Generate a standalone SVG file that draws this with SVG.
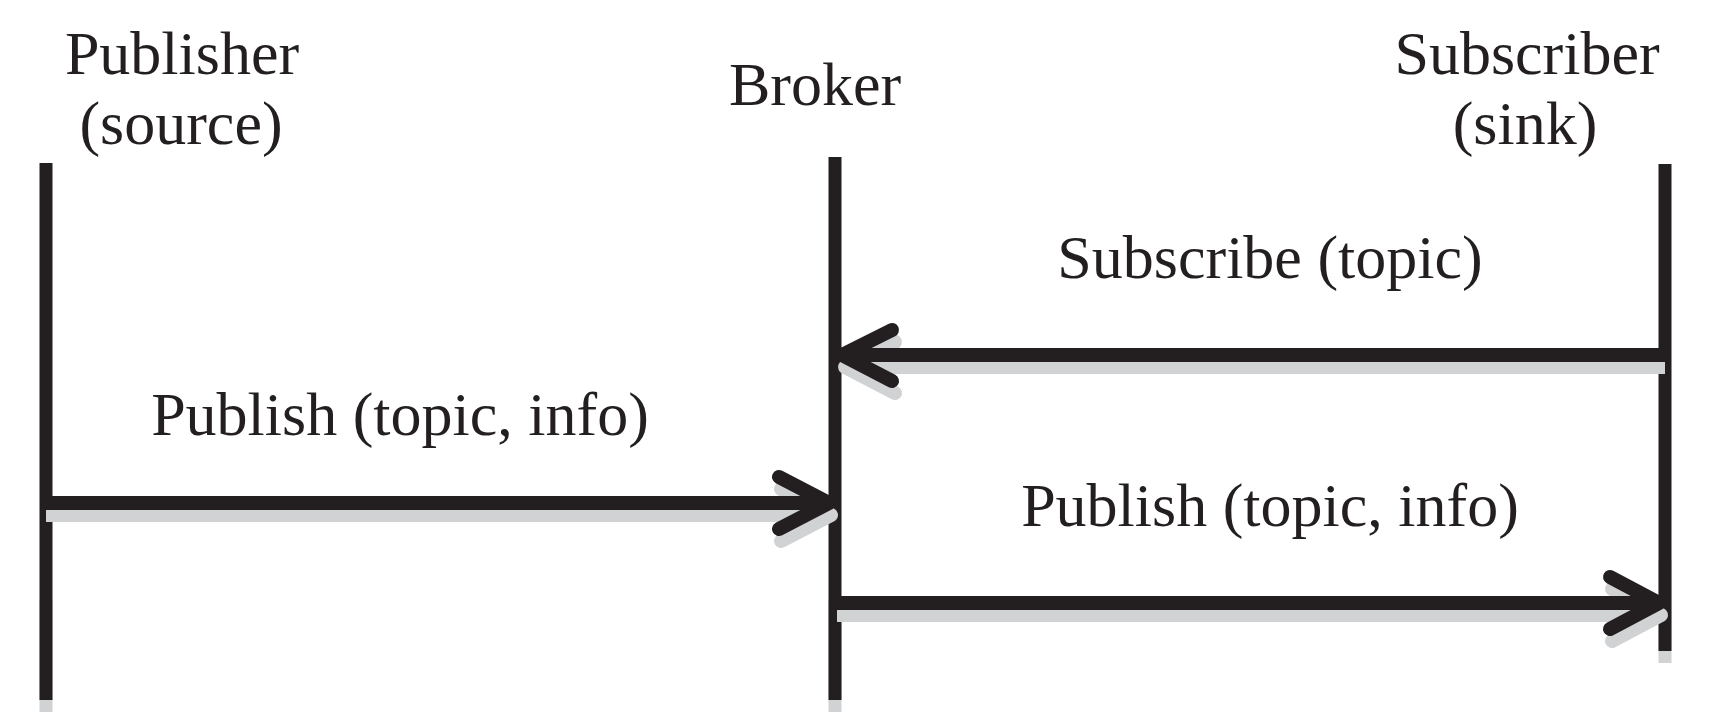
<svg xmlns="http://www.w3.org/2000/svg" width="1709" height="720" viewBox="0 0 1709 720">
<style>
.t{font-family:"Liberation Serif","Times New Roman",serif;font-size:62px;fill:#231f20;text-anchor:middle}
.life{stroke:#231f20;stroke-width:13;fill:none}
.lifesh{stroke:#d1d2d3;stroke-width:13;fill:none}
.msg{stroke:#231f20;stroke-width:14;fill:none}
.head{stroke:#231f20;stroke-width:14;fill:none;stroke-linecap:round;stroke-linejoin:round}
.sh{stroke:#d1d2d3}
</style>
<rect width="1709" height="720" fill="#ffffff"/>
<g id="shadows">
<line class="lifesh" x1="46" y1="600" x2="46" y2="712"/>
<line class="lifesh" x1="835" y1="600" x2="835" y2="712"/>
<line class="lifesh" x1="1665" y1="560" x2="1665" y2="663"/>
</g>
<g id="publisher">
<text class="t" x="182" y="74">Publisher</text>
<text class="t" x="181" y="144">(source)</text>
<line class="life" x1="46" y1="163" x2="46" y2="700"/>
</g>
<g id="broker">
<text class="t" x="815" y="105">Broker</text>
<line class="life" x1="835" y1="157" x2="835" y2="700"/>
</g>
<g id="subscriber">
<text class="t" x="1527" y="74">Subscriber</text>
<text class="t" x="1525" y="144">(sink)</text>
<line class="life" x1="1665" y1="164" x2="1665" y2="651"/>
</g>
<g id="connectors">
<g id="subscribe">
<g transform="translate(3,12)">
<line class="msg sh" x1="1662" y1="355" x2="842" y2="355"/>
<polyline class="head sh" points="892,330 842,355 892,381"/>
</g>
<line class="msg" x1="1665" y1="355" x2="842" y2="355"/>
<polyline class="head" points="892,330 842,355 892,381"/>
<text class="t" x="1270" y="278">Subscribe (topic)</text>
</g>
<g id="publish1">
<g transform="translate(2,12)">
<line class="msg sh" x1="44" y1="503" x2="829" y2="503"/>
<polyline class="head sh" points="779,477 829,503 779,529"/>
</g>
<line class="msg" x1="46" y1="503" x2="829" y2="503"/>
<polyline class="head" points="779,477 829,503 779,529"/>
<text class="t" x="400" y="435">Publish (topic, info)</text>
</g>
<g id="publish2">
<g transform="translate(2,12)">
<line class="msg sh" x1="835" y1="603" x2="1659" y2="603"/>
<polyline class="head sh" points="1610,577 1659,603 1610,629"/>
</g>
<line class="msg" x1="835" y1="603" x2="1659" y2="603"/>
<polyline class="head" points="1610,577 1659,603 1610,629"/>
<text class="t" x="1270" y="526">Publish (topic, info)</text>
</g>
</g>
</svg>
